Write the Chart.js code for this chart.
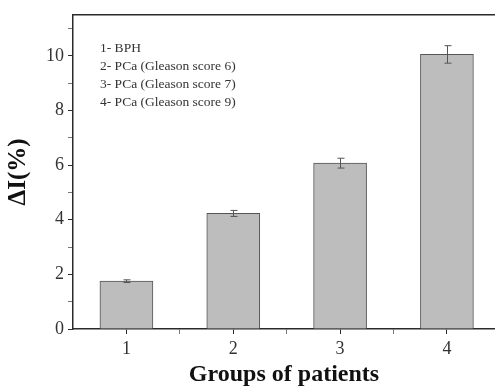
<!DOCTYPE html>
<html>
<head>
<meta charset="utf-8">
<script src="https://cdn.jsdelivr.net/npm/chart.js@4"></script>
<style>
  html, body { margin: 0; padding: 0; background: #fff; }
  #wrap { width: 495px; height: 387px; }
</style>
</head>
<body>
<div id="wrap"><canvas id="myChart" width="495" height="387"></canvas></div>
<script>
// groups on the x axis and the measured values
const groups = [1, 2, 3, 4];
const deltaI = [1.75, 4.23, 6.07, 10.05];
const errors = [0.05, 0.11, 0.18, 0.32];
const yTickLabels = [0, 2, 4, 6, 8, 10];
const notes = [
  '1- BPH',
  '2- PCa (Gleason score 6)',
  '3- PCa (Gleason score 7)',
  '4- PCa (Gleason score 9)'
];

const serif = '"Liberation Serif", "DejaVu Serif", serif';
const axisColor = '#2b2b2b';

// error bars + top frame line + the little text block
const extras = {
  id: 'extras',
  afterDatasetsDraw(chart) {
    const ctx = chart.ctx;
    const x = chart.scales.x, y = chart.scales.y;
    const area = chart.chartArea;
    ctx.save();
    ctx.strokeStyle = '#555';
    ctx.lineWidth = 1;
    groups.forEach((g, i) => {
      const px = Math.round(x.getPixelForValue(g)) + 0.5;
      const top = y.getPixelForValue(deltaI[i] + errors[i]);
      const bot = y.getPixelForValue(deltaI[i] - errors[i]);
      ctx.beginPath();
      ctx.moveTo(px, top); ctx.lineTo(px, bot);
      ctx.moveTo(px - 3, top); ctx.lineTo(px + 4, top);
      ctx.moveTo(px - 3, bot); ctx.lineTo(px + 4, bot);
      ctx.stroke();
    });
    // top border of the frame
    ctx.strokeStyle = axisColor;
    ctx.lineWidth = 1.5;
    ctx.beginPath();
    ctx.moveTo(area.left, area.top);
    ctx.lineTo(area.right, area.top);
    ctx.stroke();
    // description of the groups
    ctx.fillStyle = '#333';
    ctx.font = '13.5px ' + serif;
    ctx.textBaseline = 'middle';
    notes.forEach((t, i) => {
      ctx.fillText(t, area.left + 27, area.top + 34 + i * 18);
    });
    ctx.restore();
  }
};

const ctx = document.getElementById('myChart').getContext('2d');
new Chart(ctx, {
  type: 'bar',
  data: {
    datasets: [{
      data: groups.map((g, i) => ({ x: g, y: deltaI[i] })),
      backgroundColor: '#bdbdbd',
      borderColor: '#555',
      borderWidth: 1,
      borderSkipped: 'bottom',
      barThickness: 53
    }]
  },
  plugins: [extras],
  options: {
    responsive: false,
    animation: false,
    layout: { padding: { top: 14, right: 0, left: 0, bottom: 0 } },
    plugins: { legend: { display: false }, tooltip: { enabled: false } },
    scales: {
      x: {
        type: 'linear',
        offset: false,
        min: 0.5,
        max: 4.45,
        afterFit(scale) { scale.height = 58; },
        afterBuildTicks(scale) {
          scale.ticks = [1, 1.5, 2, 2.5, 3, 3.5, 4].map(v => ({ value: v }));
        },
        border: { color: axisColor, width: 1.5 },
        grid: {
          offset: false,
          drawOnChartArea: false,
          tickLength: 5,
          tickColor: c => (c.tick && Number.isInteger(c.tick.value)) ? axisColor : '#777'
        },
        ticks: {
          color: '#333',
          padding: 4,
          maxRotation: 0,
          font: { family: serif, size: 18 },
          callback: v => Number.isInteger(v) ? v : ''
        },
        title: {
          display: true,
          text: 'Groups of patients',
          color: '#111',
          padding: { top: 0, bottom: 0 },
          font: { family: serif, size: 24, weight: 'bold', lineHeight: 1 }
        }
      },
      y: {
        min: 0,
        max: 11.5,
        afterFit(scale) { scale.width = 73; },
        afterBuildTicks(scale) {
          scale.ticks = [0, 1, 2, 3, 4, 5, 6, 7, 8, 9, 10, 11].map(v => ({ value: v }));
        },
        border: { color: axisColor, width: 1.5 },
        grid: {
          drawOnChartArea: false,
          tickLength: 5,
          tickColor: c => (c.tick && c.tick.value % 2 === 0) ? axisColor : '#777'
        },
        ticks: {
          color: '#333',
          padding: 4,
          font: { family: serif, size: 18 },
          callback: v => yTickLabels.includes(v) ? v : ''
        },
        title: {
          display: true,
          text: 'ΔI(%)',
          color: '#111',
          padding: { bottom: 2 },
          font: { family: serif, size: 25, weight: 'bold' }
        }
      }
    }
  }
});
</script>
</body>
</html>
